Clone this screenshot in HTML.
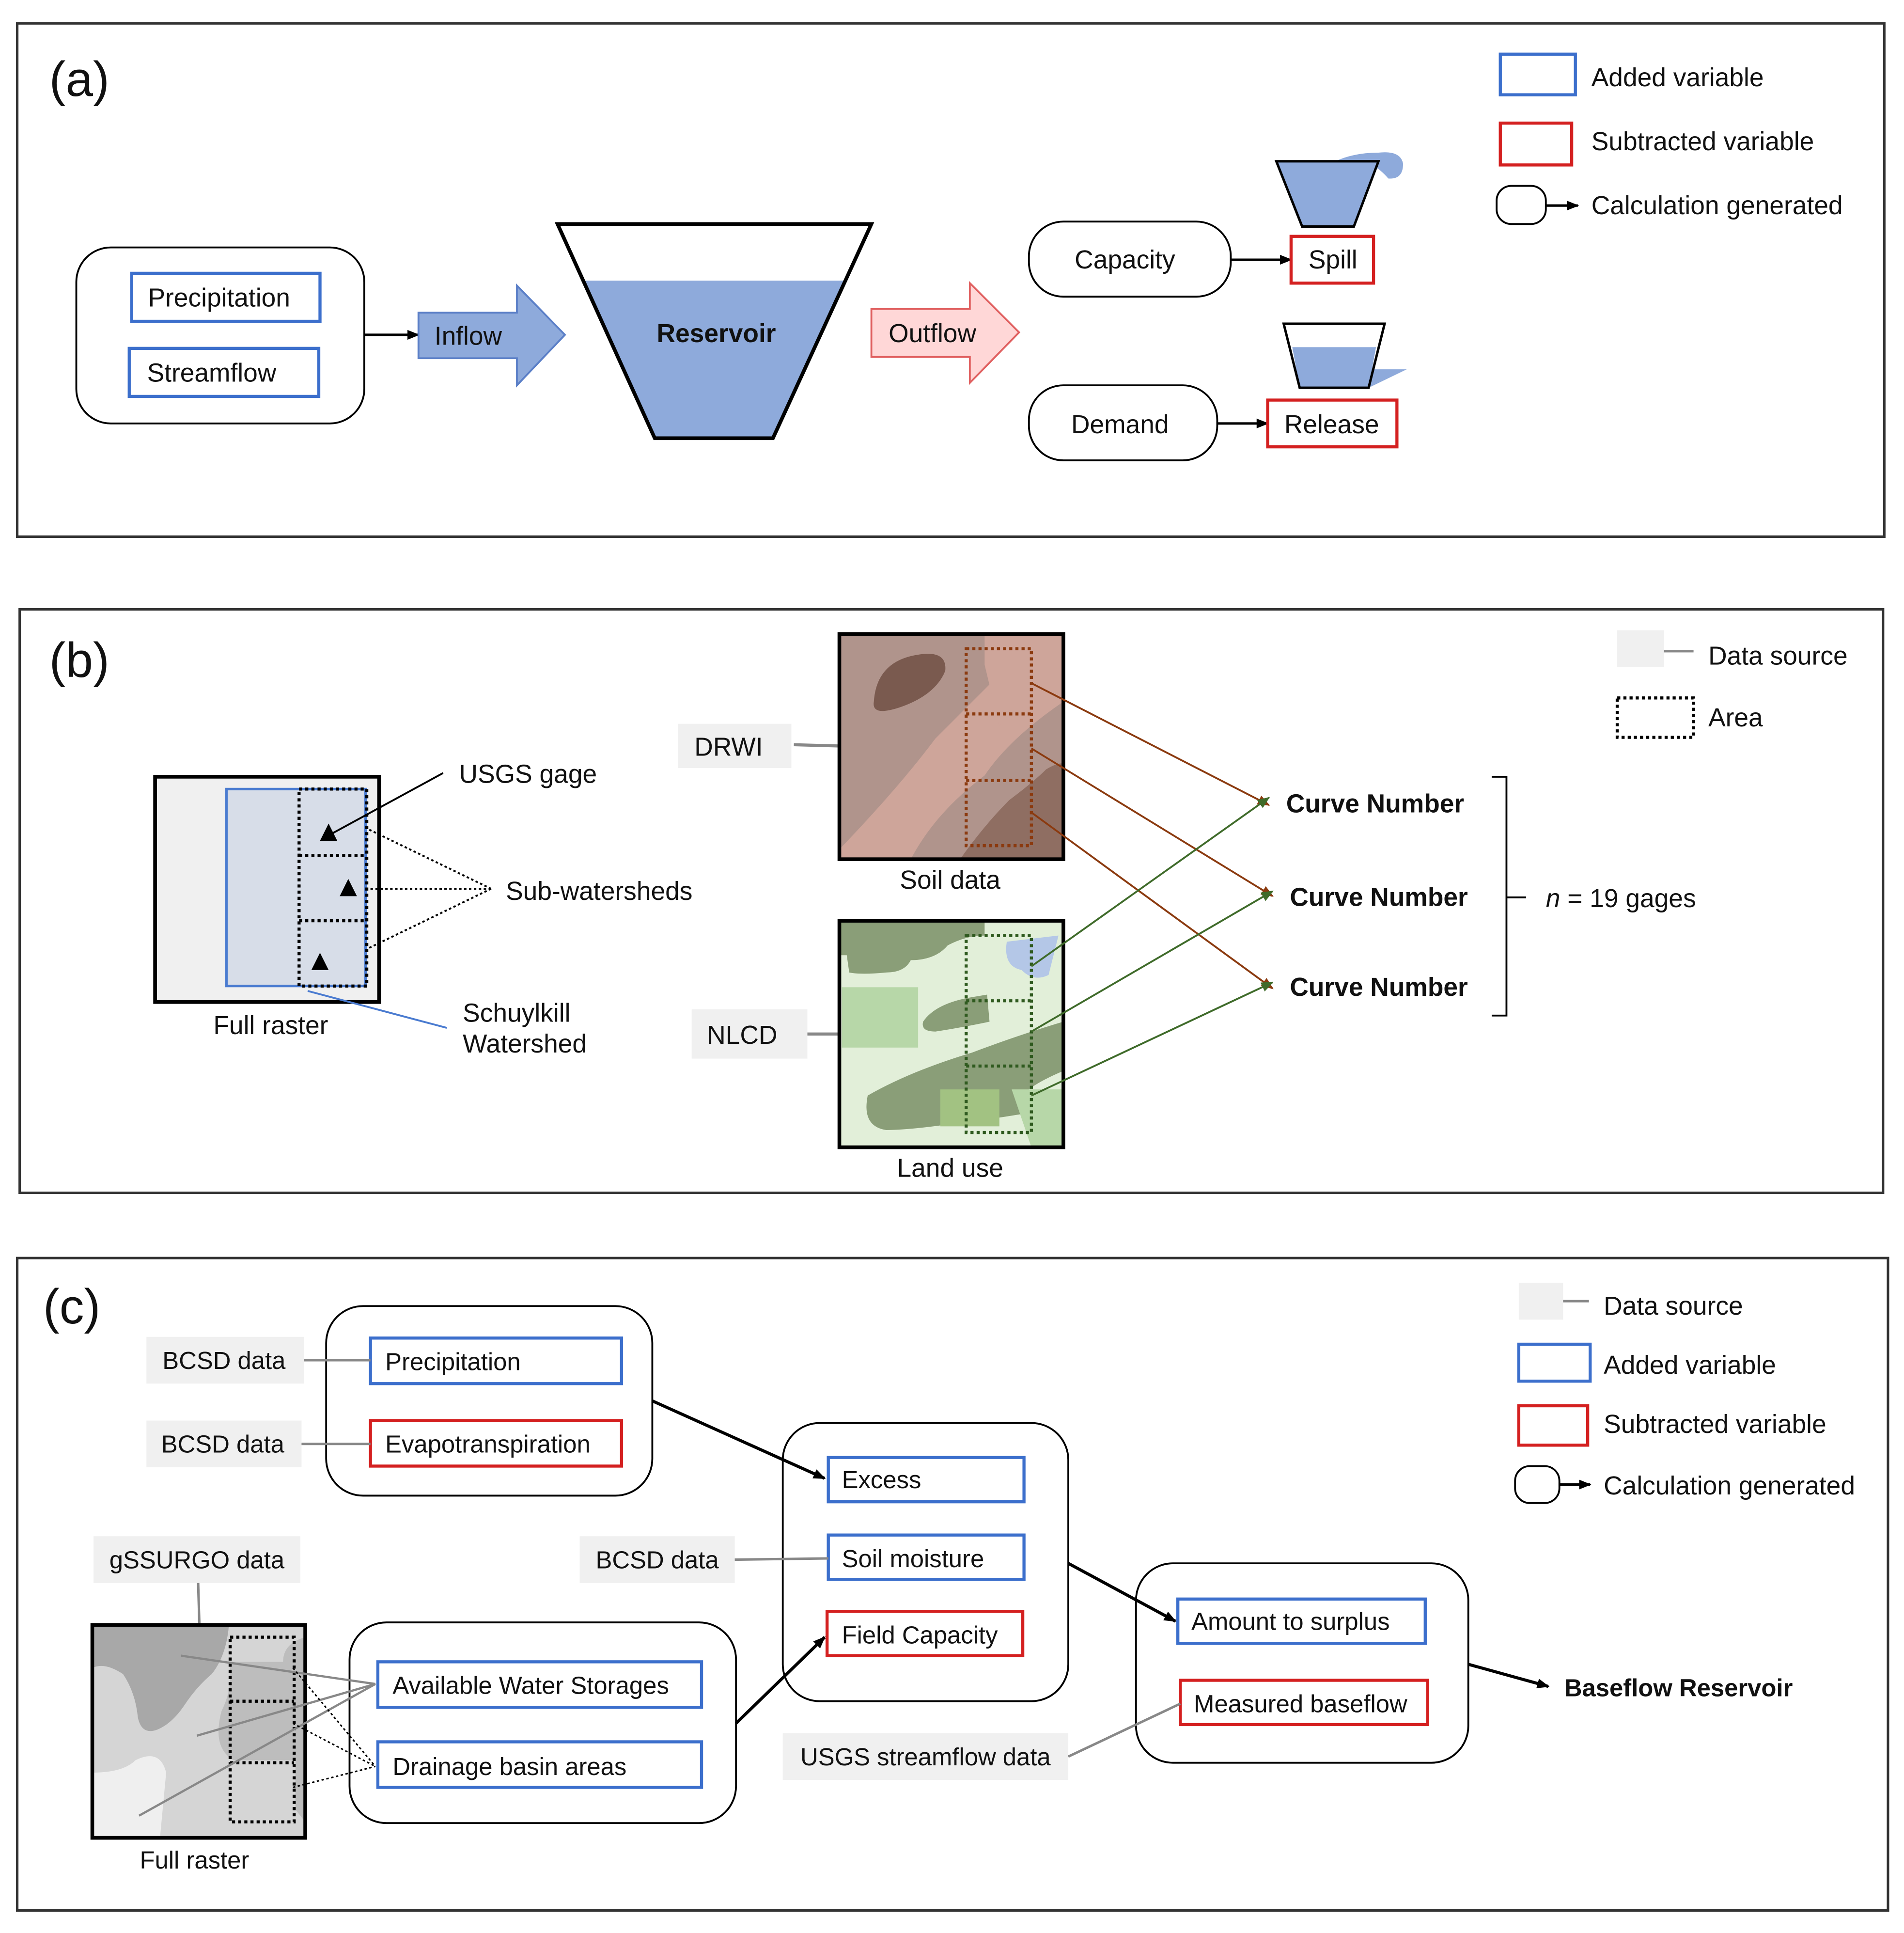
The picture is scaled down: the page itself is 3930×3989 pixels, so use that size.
<!DOCTYPE html>
<html><head><meta charset="utf-8"><style>
html,body{margin:0;padding:0;background:#fff;}
svg{display:block;}
text{font-family:"Liberation Sans",Arial,sans-serif;fill:#111;}
</style></head><body>
<svg width="3930" height="3989" viewBox="0 0 1547 1570.3" preserveAspectRatio="none" xmlns="http://www.w3.org/2000/svg">
<defs>
<marker id="ar" markerWidth="10" markerHeight="10" refX="9" refY="5" orient="auto" markerUnits="userSpaceOnUse"><path d="M0,1 L10,5 L0,9 z" fill="#000"/></marker>
<marker id="arb" markerWidth="10" markerHeight="10" refX="9" refY="5" orient="auto" markerUnits="userSpaceOnUse"><path d="M0,1 L10,5 L0,9 z" fill="#8b3a0f"/></marker>
<marker id="arg" markerWidth="10" markerHeight="10" refX="9" refY="5" orient="auto" markerUnits="userSpaceOnUse"><path d="M0,1 L10,5 L0,9 z" fill="#3f6b2a"/></marker>
</defs>
<rect width="1547" height="1571" fill="#fff"/>

<!-- PANEL A -->
<rect x="14" y="19" width="1517" height="417" fill="none" stroke="#333" stroke-width="2"/>
<text x="40" y="78" font-size="40">(a)</text>
<rect x="1219" y="44" width="61" height="33" fill="none" stroke="#3c6fcc" stroke-width="2.5"/>
<text x="1293" y="70" font-size="21">Added variable</text>
<rect x="1219" y="100" width="58" height="34" fill="none" stroke="#d42020" stroke-width="2.5"/>
<text x="1293" y="122" font-size="21">Subtracted variable</text>
<rect x="1216" y="151" width="40" height="31" rx="12" fill="none" stroke="#000" stroke-width="1.5"/>
<line x1="1256" y1="167" x2="1282" y2="167" stroke="#000" stroke-width="2" marker-end="url(#ar)"/>
<text x="1293" y="174" font-size="21">Calculation generated</text>

<rect x="62" y="201" width="234" height="143" rx="28" fill="none" stroke="#000" stroke-width="1.5"/>
<rect x="107" y="222" width="153" height="39" fill="none" stroke="#3c6fcc" stroke-width="2.5"/>
<text x="178" y="249" font-size="21" text-anchor="middle">Precipitation</text>
<rect x="105" y="283" width="154" height="39" fill="none" stroke="#3c6fcc" stroke-width="2.5"/>
<text x="172" y="310" font-size="21" text-anchor="middle">Streamflow</text>
<line x1="296" y1="272" x2="340" y2="272" stroke="#000" stroke-width="2" marker-end="url(#ar)"/>
<polygon points="340,254 420,254 420,232 459,272 420,313 420,291 340,291" fill="#8eaadb" stroke="#5b7fc7" stroke-width="1.5"/>
<text x="353" y="280" font-size="21">Inflow</text>
<polygon points="474,228 687,228 628,356 532,356" fill="#8eaadb"/>
<polygon points="453,182 708,182 628,356 532,356" fill="none" stroke="#000" stroke-width="3"/>
<text x="582" y="278" font-size="21" font-weight="bold" text-anchor="middle">Reservoir</text>
<polygon points="708,251 788,251 788,230 828,270 788,311 788,290 708,290" fill="#ffd7d7" stroke="#e06060" stroke-width="1.5"/>
<text x="722" y="278" font-size="21">Outflow</text>
<rect x="836" y="180" width="164" height="61" rx="28" fill="none" stroke="#000" stroke-width="1.5"/>
<text x="914" y="218" font-size="21" text-anchor="middle">Capacity</text>
<line x1="1000" y1="211" x2="1049" y2="211" stroke="#000" stroke-width="2" marker-end="url(#ar)"/>
<rect x="1049" y="192" width="67" height="38" fill="none" stroke="#d42020" stroke-width="2.5"/>
<text x="1083" y="218" font-size="21" text-anchor="middle">Spill</text>
<rect x="836" y="313" width="153" height="61" rx="28" fill="none" stroke="#000" stroke-width="1.5"/>
<text x="910" y="352" font-size="21" text-anchor="middle">Demand</text>
<line x1="989" y1="344" x2="1030" y2="344" stroke="#000" stroke-width="2" marker-end="url(#ar)"/>
<rect x="1030" y="325" width="105" height="38" fill="none" stroke="#d42020" stroke-width="2.5"/>
<text x="1082" y="352" font-size="21" text-anchor="middle">Release</text>
<!-- spill icon -->
<path d="M1085,131 Q1100,124 1120,124 Q1138,122 1140,133 Q1140,146 1128,145 Q1122,138 1115,134 Z" fill="#8eaadb"/>
<polygon points="1037,131 1120,131 1100,184 1058,184" fill="#8eaadb" stroke="#000" stroke-width="2"/>
<!-- release icon -->
<polygon points="1050,282 1118,282 1112,315 1056,315" fill="#8eaadb"/>
<polygon points="1112,300 1143,300 1112,315" fill="#8eaadb"/>
<polygon points="1043,263 1125,263 1112,315 1056,315" fill="none" stroke="#000" stroke-width="2"/>

<!-- PANEL B -->
<rect x="16" y="495" width="1514" height="474" fill="none" stroke="#333" stroke-width="2"/>
<text x="40" y="550" font-size="40">(b)</text>
<rect x="1314" y="512" width="38" height="30" fill="#f0f0f0"/>
<line x1="1352" y1="529" x2="1376" y2="529" stroke="#888" stroke-width="2"/>
<text x="1388" y="540" font-size="21">Data source</text>
<rect x="1314" y="567" width="62" height="32" fill="none" stroke="#000" stroke-width="2.5" stroke-dasharray="2.5,2.5"/>
<text x="1388" y="590" font-size="21">Area</text>

<rect x="126" y="631" width="182" height="183" fill="#f0f0f0" stroke="#000" stroke-width="3"/>
<rect x="184" y="641" width="113" height="160" fill="#d7dde8" stroke="#4a7bd0" stroke-width="2"/>
<rect x="243" y="641" width="55" height="160" fill="none" stroke="#000" stroke-width="2.5" stroke-dasharray="2.5,2.5"/>
<line x1="243" y1="695" x2="298" y2="695" stroke="#000" stroke-width="2.5" stroke-dasharray="2.5,2.5"/>
<line x1="243" y1="748" x2="298" y2="748" stroke="#000" stroke-width="2.5" stroke-dasharray="2.5,2.5"/>
<polygon points="267,669 260,683 274,683" fill="#000"/>
<polygon points="283,714 276,728 290,728" fill="#000"/>
<polygon points="260,774 253,788 267,788" fill="#000"/>
<text x="220" y="840" font-size="21" text-anchor="middle">Full raster</text>
<line x1="360" y1="628" x2="270" y2="677" stroke="#000" stroke-width="1.5"/>
<text x="373" y="636" font-size="21">USGS gage</text>
<g stroke="#000" stroke-width="1.5" stroke-dasharray="2,2" fill="none">
<line x1="399" y1="722" x2="300" y2="674"/>
<line x1="399" y1="722" x2="300" y2="722"/>
<line x1="399" y1="722" x2="300" y2="770"/>
</g>
<text x="411" y="731" font-size="21">Sub-watersheds</text>
<line x1="250" y1="805" x2="363" y2="835" stroke="#4a7bd0" stroke-width="1.5"/>
<text x="376" y="830" font-size="21">Schuylkill</text>
<text x="376" y="855" font-size="21">Watershed</text>

<rect x="551" y="588" width="92" height="36" fill="#f0f0f0"/>
<text x="592" y="614" font-size="21" text-anchor="middle">DRWI</text>
<line x1="645" y1="605" x2="682" y2="606" stroke="#888" stroke-width="2.5"/>
<!-- soil raster -->
<rect x="682" y="515" width="182" height="183" fill="#b0948c"/>
<path d="M682,690 Q730,640 760,600 Q800,560 820,540 L864,520 L864,570 Q820,600 800,630 Q760,660 740,698 L682,698 Z" fill="#cea59a"/>
<path d="M800,515 L864,515 L864,560 Q830,570 812,590 L800,540 Z" fill="#cea59a"/>
<path d="M710,570 Q712,540 740,533 Q770,526 768,545 Q760,565 730,575 Q708,582 710,570 Z" fill="#7a5a4f"/>
<path d="M780,698 Q800,670 820,650 Q840,635 850,625 Q858,620 864,620 L864,698 Z" fill="#8f6e62"/>
<rect x="682" y="515" width="182" height="183" fill="none" stroke="#000" stroke-width="3"/>
<g stroke="#8b3a0f" stroke-width="2.5" stroke-dasharray="2.5,2.5" fill="none">
<rect x="785" y="527" width="53" height="160"/>
<line x1="785" y1="580" x2="838" y2="580"/>
<line x1="785" y1="634" x2="838" y2="634"/>
</g>
<text x="772" y="722" font-size="21" text-anchor="middle">Soil data</text>

<rect x="562" y="820" width="94" height="40" fill="#f0f0f0"/>
<text x="603" y="848" font-size="21" text-anchor="middle">NLCD</text>
<line x1="656" y1="840" x2="682" y2="840" stroke="#888" stroke-width="2.5"/>
<!-- land raster -->
<rect x="682" y="748" width="182" height="184" fill="#e2efd9"/>
<path d="M682,748 L800,748 L800,760 Q785,760 770,768 Q760,780 740,780 Q735,790 720,790 Q700,792 690,790 L688,776 L682,776 Z" fill="#8a9e78"/>
<rect x="684" y="802" width="62" height="49" fill="#b7d7a8"/>
<path d="M750,830 Q760,815 790,810 L802,808 L804,830 Q780,835 760,838 Q748,838 750,830 Z" fill="#8a9e78"/>
<path d="M705,890 Q740,870 790,855 Q830,840 864,830 L864,870 Q840,880 830,890 L830,905 Q800,910 780,912 Q740,918 720,918 Q700,915 705,890 Z" fill="#8a9e78"/>
<rect x="764" y="885" width="48" height="30" fill="#a2c282"/>
<path d="M822,885 L864,885 L864,932 L838,932 Z" fill="#b7d7a8"/>
<path d="M818,765 L860,760 L852,792 Q840,798 830,788 Q815,785 818,765 Z" fill="#b4c7e7"/>
<rect x="682" y="748" width="182" height="184" fill="none" stroke="#000" stroke-width="3"/>
<g stroke="#2f5a1f" stroke-width="2.5" stroke-dasharray="2.5,2.5" fill="none">
<rect x="785" y="760" width="53" height="160"/>
<line x1="785" y1="813" x2="838" y2="813"/>
<line x1="785" y1="866" x2="838" y2="866"/>
</g>
<text x="772" y="956" font-size="21" text-anchor="middle">Land use</text>

<g stroke-width="1.5" fill="none">
<line x1="838" y1="555" x2="1031" y2="654" stroke="#8b3a0f" marker-end="url(#arb)"/>
<line x1="838" y1="608" x2="1034" y2="728" stroke="#8b3a0f" marker-end="url(#arb)"/>
<line x1="838" y1="660" x2="1034" y2="803" stroke="#8b3a0f" marker-end="url(#arb)"/>
<line x1="838" y1="785" x2="1031" y2="648" stroke="#3f6b2a" marker-end="url(#arg)"/>
<line x1="838" y1="838" x2="1034" y2="724" stroke="#3f6b2a" marker-end="url(#arg)"/>
<line x1="838" y1="890" x2="1034" y2="798" stroke="#3f6b2a" marker-end="url(#arg)"/>
</g>
<text x="1045" y="660" font-size="21" font-weight="bold">Curve Number</text>
<text x="1048" y="736" font-size="21" font-weight="bold">Curve Number</text>
<text x="1048" y="809" font-size="21" font-weight="bold">Curve Number</text>
<polyline points="1212,631 1224,631 1224,825 1212,825" fill="none" stroke="#000" stroke-width="1.5"/>
<line x1="1224" y1="729" x2="1240" y2="729" stroke="#000" stroke-width="1.5"/>
<text x="1256" y="737" font-size="21"><tspan font-style="italic">n</tspan> = 19 gages</text>

<!-- PANEL C -->
<rect x="14" y="1022" width="1520" height="530" fill="none" stroke="#333" stroke-width="2"/>
<text x="35" y="1075" font-size="40">(c)</text>
<rect x="1234" y="1042" width="36" height="30" fill="#f0f0f0"/>
<line x1="1270" y1="1057" x2="1291" y2="1057" stroke="#888" stroke-width="2"/>
<text x="1303" y="1068" font-size="21">Data source</text>
<rect x="1234" y="1092" width="58" height="30" fill="none" stroke="#3c6fcc" stroke-width="2.5"/>
<text x="1303" y="1116" font-size="21">Added variable</text>
<rect x="1234" y="1142" width="56" height="32" fill="none" stroke="#d42020" stroke-width="2.5"/>
<text x="1303" y="1164" font-size="21">Subtracted variable</text>
<rect x="1231" y="1191" width="36" height="30" rx="12" fill="none" stroke="#000" stroke-width="1.5"/>
<line x1="1267" y1="1206" x2="1292" y2="1206" stroke="#000" stroke-width="2" marker-end="url(#ar)"/>
<text x="1303" y="1214" font-size="21">Calculation generated</text>

<rect x="265" y="1061" width="265" height="154" rx="30" fill="none" stroke="#000" stroke-width="1.5"/>
<rect x="301" y="1087" width="204" height="37" fill="none" stroke="#3c6fcc" stroke-width="2.5"/>
<text x="313" y="1113" font-size="20">Precipitation</text>
<rect x="301" y="1154" width="204" height="37" fill="none" stroke="#d42020" stroke-width="2.5"/>
<text x="313" y="1180" font-size="20">Evapotranspiration</text>
<rect x="119" y="1086" width="128" height="38" fill="#f0f0f0"/>
<text x="182" y="1112" font-size="20" text-anchor="middle">BCSD data</text>
<rect x="119" y="1154" width="126" height="38" fill="#f0f0f0"/>
<text x="181" y="1180" font-size="20" text-anchor="middle">BCSD data</text>
<line x1="247" y1="1105" x2="301" y2="1105" stroke="#888" stroke-width="2"/>
<line x1="245" y1="1173" x2="301" y2="1173" stroke="#888" stroke-width="2"/>
<line x1="530" y1="1138" x2="670" y2="1201" stroke="#000" stroke-width="2.5" marker-end="url(#ar)"/>

<rect x="636" y="1156" width="232" height="226" rx="30" fill="none" stroke="#000" stroke-width="1.5"/>
<rect x="673" y="1184" width="159" height="36" fill="none" stroke="#3c6fcc" stroke-width="2.5"/>
<text x="684" y="1209" font-size="20">Excess</text>
<rect x="673" y="1247" width="159" height="36" fill="none" stroke="#3c6fcc" stroke-width="2.5"/>
<text x="684" y="1273" font-size="20">Soil moisture</text>
<rect x="672" y="1309" width="159" height="36" fill="none" stroke="#d42020" stroke-width="2.5"/>
<text x="684" y="1335" font-size="20">Field Capacity</text>
<rect x="471" y="1248" width="126" height="38" fill="#f0f0f0"/>
<text x="534" y="1274" font-size="20" text-anchor="middle">BCSD data</text>
<line x1="597" y1="1267" x2="673" y2="1266" stroke="#888" stroke-width="2"/>

<rect x="76" y="1248" width="168" height="38" fill="#f0f0f0"/>
<text x="160" y="1274" font-size="20" text-anchor="middle">gSSURGO data</text>
<line x1="161" y1="1286" x2="162" y2="1320" stroke="#888" stroke-width="2"/>
<!-- gray raster -->
<rect x="75" y="1320" width="173" height="173" fill="#d5d5d5"/>
<path d="M75,1320 L186,1320 Q184,1345 172,1360 Q160,1370 150,1385 Q140,1400 128,1405 Q115,1410 112,1395 Q110,1375 100,1360 Q85,1350 75,1355 Z" fill="#a8a8a8"/>
<path d="M186,1350 Q190,1370 180,1390 Q172,1420 190,1430 L240,1430 L240,1470 L248,1480 L248,1330 Q230,1335 230,1350 Z" fill="#bdbdbd"/>
<path d="M75,1440 Q100,1440 110,1430 Q130,1420 135,1440 L130,1493 L75,1493 Z" fill="#efefef"/>
<rect x="75" y="1320" width="173" height="173" fill="none" stroke="#000" stroke-width="3"/>
<g stroke="#000" stroke-width="2.5" stroke-dasharray="2.5,2.5" fill="none">
<rect x="187" y="1330" width="52" height="150"/>
<line x1="187" y1="1382" x2="239" y2="1382"/>
<line x1="187" y1="1432" x2="239" y2="1432"/>
</g>
<text x="158" y="1518" font-size="20" text-anchor="middle">Full raster</text>

<rect x="284" y="1318" width="314" height="163" rx="30" fill="none" stroke="#000" stroke-width="1.5"/>
<rect x="307" y="1350" width="263" height="37" fill="none" stroke="#3c6fcc" stroke-width="2.5"/>
<text x="319" y="1376" font-size="20">Available Water Storages</text>
<rect x="307" y="1415" width="263" height="37" fill="none" stroke="#3c6fcc" stroke-width="2.5"/>
<text x="319" y="1442" font-size="20">Drainage basin areas</text>
<g stroke="#888" stroke-width="1.8" fill="none">
<line x1="147" y1="1345" x2="305" y2="1368"/>
<line x1="160" y1="1410" x2="305" y2="1368"/>
<line x1="113" y1="1475" x2="305" y2="1368"/>
</g>
<g stroke="#000" stroke-width="1.2" stroke-dasharray="2,2" fill="none">
<line x1="238" y1="1355" x2="305" y2="1435"/>
<line x1="238" y1="1400" x2="305" y2="1435"/>
<line x1="238" y1="1452" x2="305" y2="1435"/>
</g>
<line x1="598" y1="1400" x2="670" y2="1330" stroke="#000" stroke-width="2.5" marker-end="url(#ar)"/>
<line x1="868" y1="1270" x2="955" y2="1317" stroke="#000" stroke-width="2.5" marker-end="url(#ar)"/>

<rect x="923" y="1270" width="270" height="162" rx="30" fill="none" stroke="#000" stroke-width="1.5"/>
<rect x="957" y="1299" width="201" height="36" fill="none" stroke="#3c6fcc" stroke-width="2.5"/>
<text x="968" y="1324" font-size="20">Amount to surplus</text>
<rect x="959" y="1365" width="201" height="36" fill="none" stroke="#d42020" stroke-width="2.5"/>
<text x="970" y="1391" font-size="20">Measured baseflow</text>
<rect x="636" y="1408" width="232" height="38" fill="#f0f0f0"/>
<text x="752" y="1434" font-size="20" text-anchor="middle">USGS streamflow data</text>
<line x1="868" y1="1427" x2="959" y2="1384" stroke="#888" stroke-width="2"/>
<line x1="1193" y1="1352" x2="1258" y2="1370" stroke="#000" stroke-width="2.5" marker-end="url(#ar)"/>
<text x="1271" y="1378" font-size="20" font-weight="bold">Baseflow Reservoir</text>
</svg>
</body></html>
